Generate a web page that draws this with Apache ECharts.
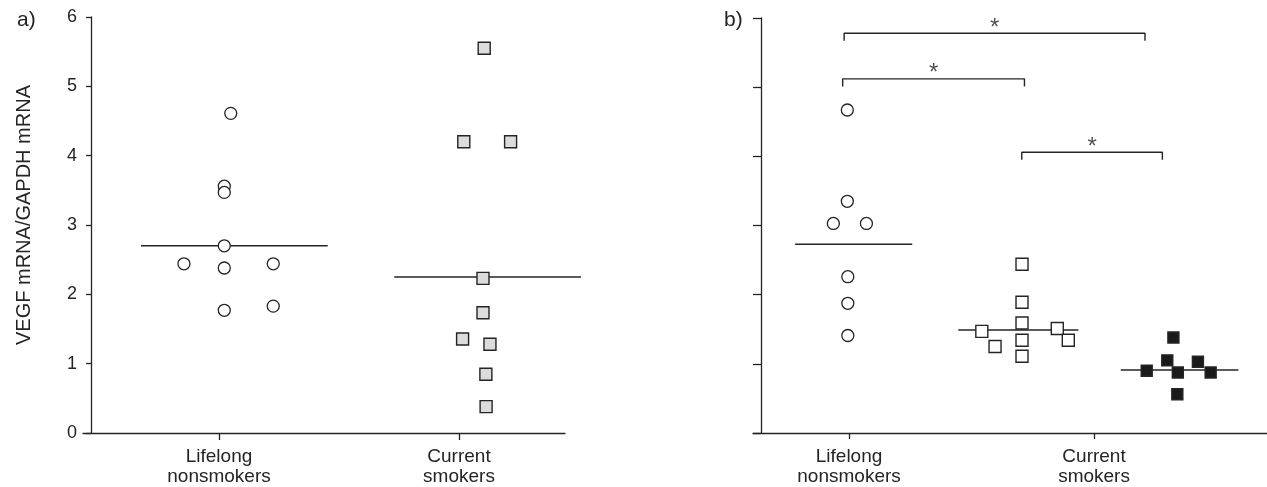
<!DOCTYPE html>
<html>
<head>
<meta charset="utf-8">
<script src="https://cdn.jsdelivr.net/npm/echarts@6/dist/echarts.min.js"></script>
<style>
html,body{margin:0;padding:0;background:#fff;}
#c{width:1267px;height:487px;}
</style>
</head>
<body>
<div id="c"></div>
<script>
// ---- data ----
const categories = ['Lifelong\nnonsmokers', 'Current\nsmokers'];
const categoryPos = [1, 2];
const yTicks = [0, 1, 2, 3, 4, 5, 6];
const yTitle = 'VEGF mRNA/GAPDH mRNA';
const panelLabels = ['a)', 'b)'];

// panel a
const aNonX = [1.049, 1.022, 1.022, 1.022, 0.854, 1.022, 1.226, 1.022, 1.226];
const aNonY = [4.61, 3.56, 3.47, 2.70, 2.44, 2.38, 2.44, 1.77, 1.83];
const aSmkX = [2.105, 2.020, 2.215, 2.100, 2.100, 2.015, 2.129, 2.112, 2.113];
const aSmkY = [5.55, 4.20, 4.20, 2.23, 1.735, 1.356, 1.28, 0.847, 0.38];
const aLineY = [2.70, 2.25];
const aLineX = [[0.675, 1.453], [1.730, 2.508]];

// panel b
const bNonX = [0.993, 0.993, 0.936, 1.071, 0.995, 0.995, 0.995];
const bNonY = [4.67, 3.35, 3.03, 3.03, 2.26, 1.875, 1.41];
const bSmkX = [1.706, 1.706, 1.706, 1.542, 1.850, 1.895, 1.706, 1.596, 1.706];
const bSmkY = [2.44, 1.89, 1.59, 1.47, 1.51, 1.34, 1.34, 1.25, 1.11];
const bSmk2X = [2.324, 2.299, 2.424, 2.215, 2.342, 2.476, 2.340];
const bSmk2Y = [1.38, 1.05, 1.03, 0.90, 0.875, 0.875, 0.56];
const bLineY = [2.73, 1.49, 0.91];
const bLineX = [[0.780, 1.258], [1.446, 1.936], [2.109, 2.589]];

// significance brackets (panel b)
const brFrom = [0.980, 0.974, 1.705];
const brTo = [2.208, 1.716, 2.279];
const brY = [5.78, 5.12, 4.06];
const brLabel = ['*', '*', '*'];

// ---- build ----
const ink = '#242424';
const font = 'Liberation Sans, Arial, sans-serif';
const zip = (xs, ys) => xs.map((x, i) => [x, ys[i]]);

const aMin = 0.4333, aMax = 2.4417, aPxPerUnit = 240;
const bMin = 0.608, bMax = 2.706;

function xAxisCfg(gridIndex, min, max, tickLen) {
  return {
    type: 'value', gridIndex, min, max,
    axisLine: { show: true, onZero: false, lineStyle: { color: ink, width: 1.3 } },
    axisTick: { show: true, length: tickLen, customValues: categoryPos, lineStyle: { color: ink, width: 1.3 } },
    axisLabel: {
      show: true, customValues: categoryPos, margin: 14,
      formatter: v => categories[categoryPos.indexOf(Math.round(v))] || '',
      color: ink, fontSize: 19, lineHeight: 20, fontFamily: font
    },
    splitLine: { show: false }
  };
}
function yAxisCfg(gridIndex, showLabels, tickLen, name) {
  return {
    type: 'value', gridIndex, min: yTicks[0], max: yTicks[yTicks.length - 1], interval: 1,
    offset: -8,
    name: name || '', nameLocation: 'middle', nameGap: 57, nameRotate: 90,
    nameTextStyle: { color: ink, fontSize: 20, fontFamily: font, padding: [0, 0, 0, 20] },
    axisLine: { show: true, onZero: false, lineStyle: { color: ink, width: 1.3 } },
    axisTick: { show: true, length: tickLen, lineStyle: { color: ink, width: 1.3 } },
    axisLabel: { show: showLabels, margin: 14, color: ink, fontSize: 18, fontFamily: font },
    splitLine: { show: false }
  };
}
const hiddenAxis = (gridIndex, min, max) => ({ type: 'value', gridIndex, min, max, show: false });

function circles(xi, yi, xs, ys) {
  return { type: 'scatter', xAxisIndex: xi, yAxisIndex: yi, data: zip(xs, ys), symbol: 'circle', symbolSize: 12,
    itemStyle: { color: '#fff', borderColor: ink, borderWidth: 1.3, opacity: 1 }, z: 5 };
}
function squares(xi, yi, xs, ys, fill, size) {
  return { type: 'scatter', xAxisIndex: xi, yAxisIndex: yi, data: zip(xs, ys), symbol: 'rect', symbolSize: size,
    itemStyle: { color: fill, borderColor: ink, borderWidth: 1.4, opacity: 1 }, z: 5 };
}
function hline(xi, yi, xr, y) {
  return { type: 'line', xAxisIndex: xi, yAxisIndex: yi, data: [[xr[0], y], [xr[1], y]], symbol: 'none', clip: false,
    lineStyle: { color: ink, width: 1.4 }, z: 3, silent: true };
}

const series = [];
series.push(circles(0, 0, aNonX, aNonY));
series.push(squares(0, 0, aSmkX, aSmkY, '#dcdcdc', 12));
// median lines of panel a live on an overlay grid with the same scale, wider than the axis line
aLineY.forEach((y, i) => series.push(hline(2, 2, aLineX[i], y)));

series.push(circles(1, 1, bNonX, bNonY));
series.push(squares(1, 1, bSmkX, bSmkY, '#fff', 12));
series.push(squares(1, 1, bSmk2X, bSmk2Y, '#1a1a1a', 11));
bLineY.forEach((y, i) => series.push(hline(1, 1, bLineX[i], y)));

const drop = 0.11;
brY.forEach((y, i) => {
  series.push({ type: 'line', xAxisIndex: 1, yAxisIndex: 1, symbol: 'none', clip: false, silent: true,
    data: [[brFrom[i], y - drop], [brFrom[i], y], [brTo[i], y], [brTo[i], y - drop]],
    lineStyle: { color: ink, width: 1.4 } });
  series.push({ type: 'scatter', xAxisIndex: 1, yAxisIndex: 1, symbolSize: 0, silent: true,
    data: [[(brFrom[i] + brTo[i]) / 2, y]],
    label: { show: true, position: 'top', distance: -7, formatter: brLabel[i], color: ink, fontSize: 24, fontFamily: font } });
});

const aOverlayWidth = 540;
const option = {
  animation: false,
  backgroundColor: '#fff',
  title: [
    { text: panelLabels[0], left: 12, top: 5, textStyle: { color: ink, fontSize: 21, fontWeight: 'normal', fontFamily: font } },
    { text: panelLabels[1], left: 719, top: 5, textStyle: { color: ink, fontSize: 21, fontWeight: 'normal', fontFamily: font } }
  ],
  grid: [
    { left: 83, top: 17, width: 482, bottom: 54 },
    { left: 753, top: 18, right: 0, bottom: 53 },
    { left: 83, top: 17, width: aOverlayWidth, bottom: 54 }
  ],
  xAxis: [xAxisCfg(0, aMin, aMax, 7), xAxisCfg(1, bMin, bMax, 6),
          hiddenAxis(2, aMin, aMin + aOverlayWidth / aPxPerUnit)],
  yAxis: [yAxisCfg(0, true, 5, yTitle), yAxisCfg(1, false, 8, ''),
          hiddenAxis(2, yTicks[0], yTicks[yTicks.length - 1])],
  series
};
const chart = echarts.init(document.getElementById('c'), null, { renderer: 'canvas' });
chart.setOption(option);
</script>
</body>
</html>
